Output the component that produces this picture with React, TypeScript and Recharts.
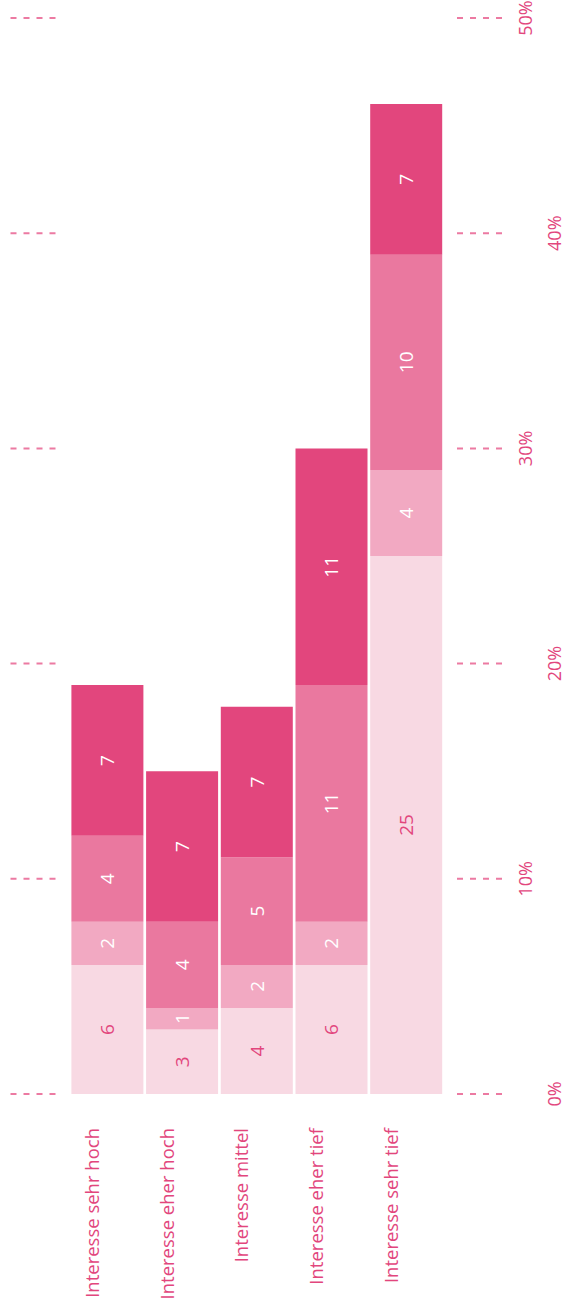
import React from 'react';
import { BarChart, Bar, XAxis, YAxis, LabelList } from 'recharts';

const categories = [
  'Interesse sehr hoch',
  'Interesse eher hoch',
  'Interesse mittel',
  'Interesse eher tief',
  'Interesse sehr tief',
];
const level1 = [6, 3, 4, 6, 25];
const level2 = [2, 1, 2, 2, 4];
const level3 = [4, 4, 5, 11, 10];
const level4 = [7, 7, 7, 11, 7];
const valueTicks = [0, 10, 20, 30, 40, 50];

const data = categories.map((name, i) => ({
  name,
  l1: level1[i],
  l2: level2[i],
  l3: level3[i],
  l4: level4[i],
}));

const PINK = '#E2467D';
const STUB = '#EC7AA2';
const FONT = '"Open Sans", sans-serif';

const series = [
  { key: 'l1', fill: '#F8D9E3', text: PINK },
  { key: 'l2', fill: '#F2A9C2', text: '#ffffff' },
  { key: 'l3', fill: '#EA789F', text: '#ffffff' },
  { key: 'l4', fill: '#E2467D', text: '#ffffff' },
];

const Stub = ({ x1, y }: { x1: number; y: number }) => (
  <line x1={x1} x2={x1 + 45} y1={y} y2={y} stroke={STUB} strokeWidth={2} strokeDasharray="6 7" />
);

// right axis tick: value label (alternating offset) plus dashed stubs on both sides
const RightTick = (props: any) => {
  const { x, y, payload, index } = props;
  const tx = x + (index % 2 === 0 ? 110.5 : 81.5);
  return (
    <g>
      <Stub x1={x + 13.5} y={y} />
      <Stub x1={x - 433} y={y} />
      <text
        x={tx}
        y={y}
        transform={`rotate(-90 ${tx} ${y})`}
        textAnchor="middle"
        dominantBaseline="central"
        fill={PINK}
        fontSize={18}
        fontFamily={FONT}
      >
        {payload.value}%
      </text>
    </g>
  );
};

const CategoryTick = (props: any) => {
  const { x, y, payload } = props;
  const tx = x - 16;
  const ty = y + 34;
  return (
    <text
      x={tx}
      y={ty}
      transform={`rotate(-90 ${tx} ${ty})`}
      textAnchor="end"
      dominantBaseline="central"
      fill={PINK}
      fontSize={18.5}
      fontFamily={FONT}
    >
      {payload.value}
    </text>
  );
};

const makeLabel = (color: string) => (props: any) => {
  const { x, y, width, height, value } = props;
  const cx = x + width / 2;
  const cy = y + height / 2;
  return (
    <text
      x={cx}
      y={cy}
      transform={`rotate(-90 ${cx} ${cy})`}
      textAnchor="middle"
      dominantBaseline="central"
      fill={color}
      fontSize={19}
      fontFamily={FONT}
    >
      {value}
    </text>
  );
};

export default function App() {
  return (
    <div style={{ position: 'absolute', left: 0, top: 0, width: 563, height: 1310, background: '#fff' }}>
      <BarChart
        width={563}
        height={1310}
        data={data}
        margin={{ top: 18, right: 0, bottom: 0, left: 70 }}
        barCategoryGap={1.4}
      >
        <XAxis
          dataKey="name"
          height={216}
          axisLine={false}
          tickLine={false}
          tickSize={0}
          tickMargin={0}
          interval={0}
          tick={<CategoryTick />}
        />
        <YAxis
          orientation="right"
          width={119.5}
          domain={[0, 50]}
          ticks={valueTicks}
          axisLine={false}
          tickLine={false}
          tickSize={0}
          tickMargin={0}
          tick={<RightTick />}
        />
        {series.map((s) => (
          <Bar key={s.key} dataKey={s.key} stackId="a" fill={s.fill} isAnimationActive={false}>
            <LabelList dataKey={s.key} content={makeLabel(s.text)} />
          </Bar>
        ))}
      </BarChart>
    </div>
  );
}
